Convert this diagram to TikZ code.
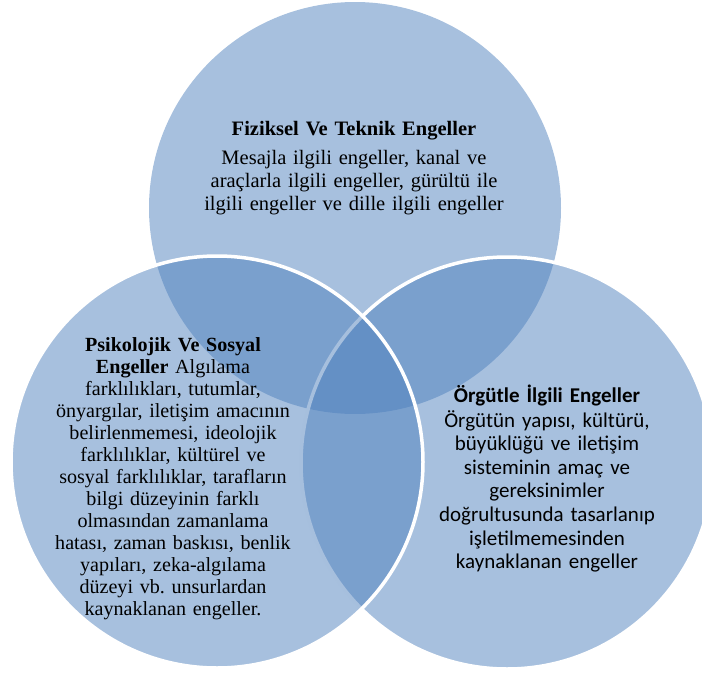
\documentclass[tikz,border=0pt]{standalone}
\usepackage{fontspec}
\setmainfont{Liberation Serif}
\newfontfamily\sanslabel{Carlito}
\definecolor{vennblue}{HTML}{4F81BD}
\begin{document}
\begin{tikzpicture}[x=1pt,y=-1pt,
  venn/.style={circle, inner sep=0pt, minimum size=412pt, fill=vennblue, fill opacity=0.5},
  vennrim/.style={venn, draw=white, line width=3.5pt},
  textblock/.style={align=center, text width=#1, inner sep=0pt, anchor=base, text=black},
]
\useasboundingbox (0,0) rectangle (702,675);
\clip (0,0) rectangle (702,675);

% three overlapping sets
\node[venn]    (phys) at (355,208) {};
\node[vennrim] (org)  at (507,463) {};
\node[vennrim] (psy)  at (217,462) {};

% set descriptions
\node[textblock=330pt, font=\rmfamily\fontsize{20.5}{23}\selectfont] (physText) at (354,135)
  {\textbf{Fiziksel Ve Teknik Engeller}\\[6pt]
   Mesajla ilgili engeller, kanal ve\\
   araçlarla ilgili engeller, gürültü ile\\
   ilgili engeller ve dille ilgili engeller};

\node[textblock=260pt, font=\rmfamily\fontsize{20.1}{22}\selectfont] (psyText) at (173,351)
  {\textbf{Psikolojik Ve Sosyal}\\
   \textbf{Engeller} Algılama\\
   farklılıkları, tutumlar,\\
   önyargılar, iletişim amacının\\
   belirlenmemesi, ideolojik\\
   farklılıklar, kültürel ve\\
   sosyal farklılıklar, tarafların\\
   bilgi düzeyinin farklı\\
   olmasından zamanlama\\
   hatası, zaman baskısı, benlik\\
   yapıları, zeka-algılama\\
   düzeyi vb.\ unsurlardan\\
   kaynaklanan engeller.};

\node[textblock=260pt, font=\sanslabel\fontsize{21}{23.6}\selectfont] (orgText) at (547,402)
  {\textbf{Örgütle İlgili Engeller}\\[1.4pt]
   Örgütün yapısı, kültürü,\\
   büyüklüğü ve iletişim\\
   sisteminin amaç ve\\
   gereksinimler\\
   doğrultusunda tasarlanıp\\
   işletilmemesinden\\
   kaynaklanan engeller};
\end{tikzpicture}
\end{document}
